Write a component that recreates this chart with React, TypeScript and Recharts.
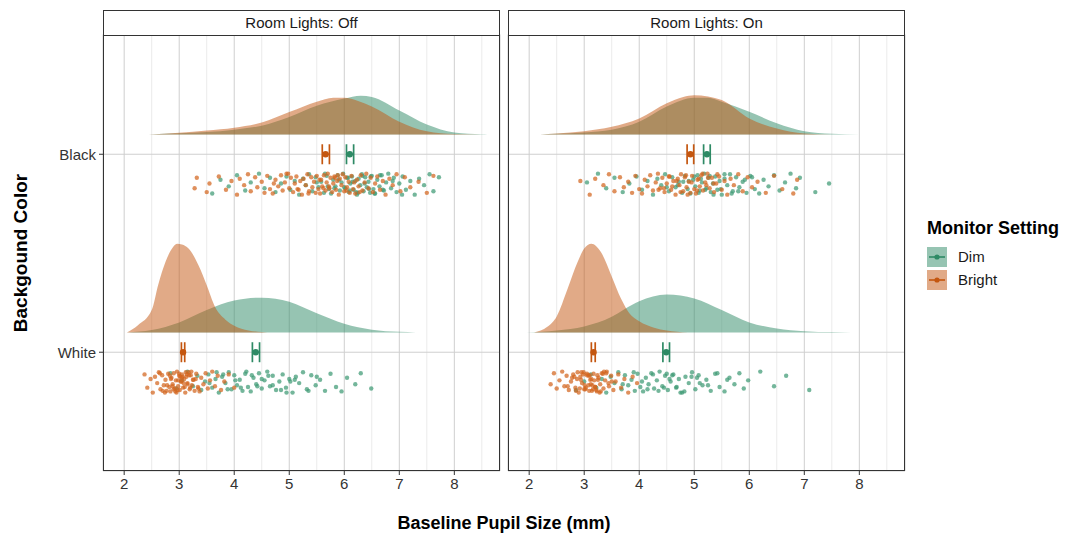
import React from "react";
import {
  ComposedChart,
  Area,
  Scatter,
  XAxis,
  YAxis,
  CartesianGrid,
  ErrorBar,
} from "recharts";

// ---------- data ----------
const X_TICKS = [2, 3, 4, 5, 6, 7, 8];
const X_MINOR = [2.5, 3.5, 4.5, 5.5, 6.5, 7.5, 8.5];
const Y_TICKS = [1, 2];
const Y_LABELS: Record<number, string> = { 1: "White", 2: "Black" };
const SETTINGS = ["Dim", "Bright"];
const PANEL_TITLES = ["Room Lights: Off", "Room Lights: On"];

// density curves: [pupil size, density]
const densOffBlackDim = [[2.45, 0], [3.0, 0.015], [3.5, 0.03], [4.0, 0.06], [4.5, 0.11], [5.0, 0.22], [5.5, 0.36], [6.0, 0.45], [6.3, 0.485], [6.5, 0.47], [7.0, 0.3], [7.5, 0.125], [8.0, 0.025], [8.5, 0.002], [8.6, 0]];
const densOffBlackBright = [[2.45, 0], [3.0, 0.022], [3.5, 0.05], [4.0, 0.085], [4.5, 0.15], [5.0, 0.28], [5.5, 0.41], [5.8, 0.46], [6.0, 0.46], [6.25, 0.42], [6.5, 0.35], [7.0, 0.16], [7.5, 0.04], [8.0, 0.006], [8.5, 0]];
const densOffWhiteDim = [[2.05, 0], [2.5, 0.03], [3.0, 0.125], [3.5, 0.28], [4.0, 0.4], [4.5, 0.435], [5.0, 0.385], [5.5, 0.24], [6.0, 0.11], [6.5, 0.035], [7.0, 0.008], [7.3, 0]];
const densOffWhiteBright = [[2.05, 0], [2.25, 0.09], [2.5, 0.28], [2.62, 0.6], [2.75, 0.88], [2.87, 1.05], [2.96, 1.11], [3.05, 1.1], [3.17, 1.05], [3.35, 0.84], [3.5, 0.59], [3.65, 0.32], [3.84, 0.16], [4.0, 0.085], [4.26, 0.025], [4.5, 0.005], [4.6, 0]];
const densOnBlackDim = [[2.2, 0], [2.5, 0.008], [3.0, 0.025], [3.5, 0.06], [4.0, 0.16], [4.5, 0.35], [5.0, 0.46], [5.25, 0.46], [5.5, 0.41], [6.0, 0.285], [6.5, 0.14], [7.0, 0.04], [7.5, 0.008], [8.0, 0.001], [8.3, 0]];
const densOnBlackBright = [[2.2, 0], [2.5, 0.012], [3.0, 0.04], [3.5, 0.095], [4.0, 0.2], [4.5, 0.39], [4.8, 0.47], [5.0, 0.49], [5.25, 0.475], [5.5, 0.43], [6.0, 0.2], [6.5, 0.075], [7.0, 0.012], [7.5, 0.001], [7.8, 0]];
const densOnWhiteDim = [[1.95, 0], [2.5, 0.025], [3.0, 0.075], [3.5, 0.195], [3.73, 0.29], [4.0, 0.39], [4.5, 0.475], [5.0, 0.425], [5.5, 0.28], [6.0, 0.125], [6.5, 0.05], [7.0, 0.016], [7.5, 0.004], [7.85, 0]];
const densOnWhiteBright = [[2.09, 0], [2.33, 0.07], [2.5, 0.2], [2.7, 0.55], [2.88, 0.88], [3.0, 1.05], [3.13, 1.11], [3.3, 1.01], [3.5, 0.7], [3.67, 0.42], [3.82, 0.24], [4.0, 0.14], [4.27, 0.06], [4.5, 0.025], [4.88, 0]];

// raw observations (pupil size, mm)
const ptsOffBlackBright = [3.28, 3.32, 3.5, 3.55, 3.72, 3.85, 3.95, 4.05, 4.1, 4.18, 4.25, 4.3, 4.38, 4.42, 4.5, 4.55, 4.6, 4.65, 4.7, 4.75, 4.8, 4.85, 4.88, 4.92, 4.95, 5.0, 5.03, 5.07, 5.1, 5.13, 5.17, 5.2, 5.23, 5.26, 5.3, 5.33, 5.36, 5.4, 5.42, 5.45, 5.48, 5.5, 5.53, 5.56, 5.58, 5.6, 5.63, 5.66, 5.68, 5.7, 5.73, 5.75, 5.78, 5.8, 5.82, 5.85, 5.87, 5.9, 5.92, 5.95, 5.97, 6.0, 6.02, 6.05, 6.08, 6.1, 6.13, 6.16, 6.2, 6.23, 6.26, 6.3, 6.33, 6.37, 6.4, 6.44, 6.48, 6.52, 6.56, 6.6, 6.65, 6.7, 6.75, 6.82, 6.88, 6.95, 7.02, 7.1, 7.2, 7.35, 7.5, 7.62, 5.15, 5.35, 5.55, 5.72, 5.88, 6.04, 6.18, 4.98, 5.62, 5.83, 6.28, 4.72];
const ptsOffBlackDim = [3.6, 3.75, 3.9, 4.05, 4.2, 4.3, 4.45, 4.55, 4.65, 4.75, 4.85, 4.95, 5.02, 5.1, 5.18, 5.25, 5.3, 5.36, 5.42, 5.48, 5.53, 5.58, 5.63, 5.68, 5.72, 5.76, 5.8, 5.84, 5.88, 5.92, 5.95, 5.98, 6.02, 6.05, 6.08, 6.11, 6.14, 6.17, 6.2, 6.23, 6.26, 6.29, 6.32, 6.35, 6.38, 6.41, 6.44, 6.47, 6.5, 6.53, 6.56, 6.6, 6.64, 6.68, 6.72, 6.76, 6.8, 6.85, 6.9, 6.95, 7.0, 7.06, 7.12, 7.2, 7.28, 7.36, 7.45, 7.55, 7.62, 7.72, 6.0, 6.15, 6.25, 6.33, 6.45, 6.55, 5.9, 5.7, 6.65, 6.1, 5.5, 5.65, 5.82, 6.07, 6.22, 6.37, 6.48, 6.7, 6.88, 7.05];
const ptsOffWhiteBright = [2.37, 2.42, 2.48, 2.52, 2.56, 2.6, 2.63, 2.66, 2.69, 2.72, 2.75, 2.77, 2.8, 2.82, 2.84, 2.86, 2.88, 2.9, 2.92, 2.94, 2.96, 2.98, 3.0, 3.01, 3.03, 3.05, 3.07, 3.09, 3.11, 3.13, 3.15, 3.17, 3.19, 3.21, 3.23, 3.25, 3.28, 3.31, 3.34, 3.37, 3.4, 3.44, 3.48, 3.52, 3.56, 3.6, 3.65, 3.7, 3.76, 3.82, 3.9, 4.0, 2.85, 2.95, 3.02, 3.08, 3.12, 2.9, 3.18, 2.78, 3.26, 2.7, 3.0, 3.1, 2.93, 3.05, 3.15, 2.65, 3.35, 2.98, 3.22, 2.88, 2.83, 2.97, 3.04, 3.14, 3.2, 3.3, 2.74, 3.06];
const ptsOffWhiteDim = [2.84, 2.95, 3.05, 3.15, 3.25, 3.33, 3.4, 3.47, 3.53, 3.6, 3.66, 3.72, 3.78, 3.84, 3.9, 3.95, 4.0, 4.05, 4.1, 4.15, 4.2, 4.25, 4.3, 4.35, 4.4, 4.45, 4.5, 4.55, 4.6, 4.65, 4.7, 4.76, 4.82, 4.88, 4.94, 5.0, 5.06, 5.12, 5.18, 5.25, 5.32, 5.4, 5.48, 5.56, 5.65, 5.75, 5.85, 5.95, 6.05, 6.2, 6.3, 6.49, 4.02, 4.22, 4.42, 4.62, 4.85, 5.02, 3.8, 4.12, 4.5, 4.95, 5.5, 3.55, 3.68, 3.88, 4.32, 4.7, 5.1, 5.35];
const ptsOnBlackBright = [2.93, 3.1, 3.2, 3.35, 3.45, 3.55, 3.65, 3.72, 3.8, 3.87, 3.93, 4.0, 4.05, 4.1, 4.15, 4.2, 4.25, 4.3, 4.34, 4.38, 4.42, 4.46, 4.5, 4.54, 4.58, 4.62, 4.66, 4.7, 4.73, 4.76, 4.8, 4.83, 4.86, 4.9, 4.93, 4.96, 5.0, 5.03, 5.06, 5.1, 5.13, 5.16, 5.2, 5.24, 5.28, 5.32, 5.36, 5.4, 5.45, 5.5, 5.55, 5.6, 5.66, 5.72, 5.8, 5.88, 5.97, 6.05, 6.15, 6.3, 6.45, 6.6, 6.8, 6.87, 4.6, 4.85, 5.05, 4.95, 5.15, 4.45, 5.25, 4.75, 5.35, 4.55, 4.35, 4.68, 4.88, 5.08, 5.22, 5.42];
const ptsOnBlackDim = [3.05, 3.25, 3.4, 3.55, 3.7, 3.82, 3.95, 4.05, 4.15, 4.25, 4.33, 4.4, 4.47, 4.54, 4.6, 4.66, 4.72, 4.78, 4.83, 4.88, 4.93, 4.98, 5.02, 5.06, 5.1, 5.14, 5.18, 5.22, 5.26, 5.3, 5.34, 5.38, 5.42, 5.46, 5.5, 5.55, 5.6, 5.65, 5.7, 5.76, 5.82, 5.88, 5.95, 6.02, 6.1, 6.18, 6.26, 6.35, 6.45, 6.55, 6.65, 6.75, 6.85, 6.92, 7.2, 7.45, 5.0, 5.2, 4.9, 5.35, 5.12, 4.7, 5.55, 5.8, 6.05, 4.5, 4.8, 5.08, 5.28, 5.48, 5.68, 5.92];
const ptsOnWhiteBright = [2.39, 2.45, 2.5, 2.55, 2.6, 2.64, 2.68, 2.72, 2.76, 2.8, 2.84, 2.87, 2.9, 2.93, 2.96, 2.99, 3.02, 3.05, 3.08, 3.11, 3.14, 3.17, 3.2, 3.23, 3.26, 3.29, 3.32, 3.35, 3.38, 3.41, 3.45, 3.49, 3.53, 3.57, 3.62, 3.67, 3.73, 3.8, 3.88, 3.96, 2.95, 3.0, 3.1, 3.15, 3.25, 2.85, 3.05, 3.2, 3.3, 2.78, 3.12, 3.4, 2.92, 3.18, 3.36, 2.7, 3.08, 3.22, 3.5, 2.98, 3.03, 3.13, 3.28, 2.82, 3.44, 2.88, 3.16, 3.24, 3.01, 2.94, 3.09, 3.34];
const ptsOnWhiteDim = [2.85, 3.0, 3.12, 3.22, 3.32, 3.4, 3.48, 3.55, 3.62, 3.68, 3.74, 3.8, 3.86, 3.92, 3.97, 4.02, 4.07, 4.12, 4.17, 4.22, 4.27, 4.32, 4.37, 4.42, 4.47, 4.52, 4.57, 4.62, 4.67, 4.72, 4.78, 4.84, 4.9, 4.96, 5.02, 5.08, 5.15, 5.22, 5.3, 5.38, 5.46, 5.55, 5.64, 5.73, 5.82, 5.9, 5.98, 6.2, 6.45, 6.67, 7.09, 4.05, 4.25, 4.45, 4.55, 4.75, 4.95, 5.1, 3.9, 4.15, 4.6, 5.25, 5.6, 4.35, 4.5, 4.68, 4.82, 5.05, 3.7, 5.42];

// vertical jitter offsets of the raw points
const JITTER = [-0.048, 0.021, -0.012, 0.044, -0.033, 0.008, 0.052, -0.022, 0.031, -0.041, 0.002, 0.038, -0.029, 0.015, -0.054, 0.026, -0.006, 0.049, -0.037, 0.034, -0.017, 0.011, -0.045, 0.041, -0.026];

// means with 95% CI: [mean, low, high]
const meanOffBlackDim = [6.1, 6.04, 6.17];
const meanOffBlackBright = [5.66, 5.6, 5.73];
const meanOffWhiteDim = [4.39, 4.33, 4.46];
const meanOffWhiteBright = [3.07, 3.04, 3.1];
const meanOnBlackDim = [5.23, 5.17, 5.29];
const meanOnBlackBright = [4.93, 4.87, 4.99];
const meanOnWhiteDim = [4.49, 4.43, 4.55];
const meanOnWhiteBright = [3.17, 3.13, 3.2];

// ---------- styling ----------
const DIM = "#2e8a65";
const BRIGHT = "#c4560f";
const DIM_PT = "#3f9a74";
const BRIGHT_PT = "#d2651f";
const FONT = "'Liberation Sans', Arial, Helvetica, sans-serif";
const DENS_SCALE = 0.404;
const X_DOMAIN = [1.615, 8.83];
const Y_DOMAIN = [0.4, 2.605];

const densData = (pairs: number[][], base: number) =>
  pairs.map(([x, d]) => ({ x, y: base + 0.1 + d * DENS_SCALE }));
const ptData = (xs: number[], base: number, k: number) =>
  xs.map((x, i) => ({ x, y: base - 0.15 + JITTER[(i + k) % JITTER.length] }));
const meanData = (m: number[], base: number) => [
  { x: m[0], y: base, err: [m[0] - m[1], m[2] - m[0]] },
];

const panels = [
  {
    title: PANEL_TITLES[0],
    dens: [
      { d: densOffBlackDim, base: 2, c: DIM },
      { d: densOffWhiteDim, base: 1, c: DIM },
      { d: densOffBlackBright, base: 2, c: BRIGHT },
      { d: densOffWhiteBright, base: 1, c: BRIGHT },
    ],
    pts: [
      { d: ptsOffBlackDim, base: 2, c: DIM_PT, k: 0 },
      { d: ptsOffBlackBright, base: 2, c: BRIGHT_PT, k: 7 },
      { d: ptsOffWhiteDim, base: 1, c: DIM_PT, k: 3 },
      { d: ptsOffWhiteBright, base: 1, c: BRIGHT_PT, k: 11 },
    ],
    means: [
      { m: meanOffBlackDim, base: 2, c: DIM },
      { m: meanOffBlackBright, base: 2, c: BRIGHT },
      { m: meanOffWhiteDim, base: 1, c: DIM },
      { m: meanOffWhiteBright, base: 1, c: BRIGHT },
    ],
  },
  {
    title: PANEL_TITLES[1],
    dens: [
      { d: densOnBlackDim, base: 2, c: DIM },
      { d: densOnWhiteDim, base: 1, c: DIM },
      { d: densOnBlackBright, base: 2, c: BRIGHT },
      { d: densOnWhiteBright, base: 1, c: BRIGHT },
    ],
    pts: [
      { d: ptsOnBlackDim, base: 2, c: DIM_PT, k: 5 },
      { d: ptsOnBlackBright, base: 2, c: BRIGHT_PT, k: 13 },
      { d: ptsOnWhiteDim, base: 1, c: DIM_PT, k: 9 },
      { d: ptsOnWhiteBright, base: 1, c: BRIGHT_PT, k: 2 },
    ],
    means: [
      { m: meanOnBlackDim, base: 2, c: DIM },
      { m: meanOnBlackBright, base: 2, c: BRIGHT },
      { m: meanOnWhiteDim, base: 1, c: DIM },
      { m: meanOnWhiteBright, base: 1, c: BRIGHT },
    ],
  },
];

const PLOT_TOP = 34.5;
const PLOT_BOTTOM = 471;
const PANEL_BOX = [
  { left: 103, right: 500 },
  { left: 508, right: 905 },
];

function Panel({ idx }: { idx: number }) {
  const p = panels[idx];
  const box = PANEL_BOX[idx];
  const showY = idx === 0;
  const chartLeft = idx === 0 ? 0 : 505;
  const chartW = idx === 0 ? 505 : 572;
  const yW = showY ? 40 : 0;
  const ml = box.left - chartLeft - yW;
  const mr = chartLeft + chartW - box.right;
  return (
    <div style={{ position: "absolute", left: chartLeft, top: 0 }}>
      <ComposedChart
        width={chartW}
        height={539}
        margin={{ top: PLOT_TOP, right: mr, bottom: 539 - PLOT_BOTTOM - 30, left: ml }}
      >
        <CartesianGrid verticalValues={X_MINOR} horizontal={false} stroke="#ebebeb" strokeWidth={1} />
        <CartesianGrid stroke="#cfcfcf" strokeWidth={1} />
        <XAxis
          type="number"
          dataKey="x"
          domain={X_DOMAIN}
          ticks={X_TICKS}
          interval={0}
          allowDataOverflow
          axisLine={false}
          tickSize={4}
          tickMargin={3}
          tickLine={{ stroke: "#333" }}
          tick={{ fill: "#333", fontSize: 15, fontFamily: FONT }}
          height={30}
        />
        <YAxis
          type="number"
          dataKey="y"
          domain={Y_DOMAIN}
          ticks={Y_TICKS}
          interval={0}
          allowDataOverflow
          hide={!showY}
          width={yW}
          axisLine={false}
          tickSize={4}
          tickMargin={3}
          tickLine={{ stroke: "#333" }}
          tickFormatter={(v: number) => Y_LABELS[v] ?? ""}
          tick={{ fill: "#333", fontSize: 15, fontFamily: FONT }}
        />
        {p.dens.map((s, i) => (
          <Area
            key={"a" + i}
            data={densData(s.d, s.base)}
            dataKey="y"
            type="monotone"
            baseValue={s.base + 0.1}
            fill={s.c}
            fillOpacity={0.5}
            stroke="none"
            isAnimationActive={false}
            dot={false}
            activeDot={false}
          />
        ))}
        {p.pts.map((s, i) => (
          <Scatter
            key={"p" + i}
            data={ptData(s.d, s.base, s.k)}
            isAnimationActive={false}
            shape={(props: any) => (
              <circle cx={props.cx} cy={props.cy} r={2.2} fill={s.c} fillOpacity={0.72} />
            )}
          />
        ))}
        {p.means.map((s, i) => (
          <Scatter
            key={"m" + i}
            data={meanData(s.m, s.base)}
            isAnimationActive={false}
            shape={(props: any) => (
              <circle cx={props.cx} cy={props.cy} r={3.2} fill={s.c} />
            )}
          >
            <ErrorBar dataKey="err" direction="x" width={10} stroke={s.c} strokeWidth={1.7} />
          </Scatter>
        ))}
      </ComposedChart>
      {/* panel border */}
      <div
        style={{
          position: "absolute",
          left: box.left - chartLeft,
          top: PLOT_TOP,
          width: box.right - box.left,
          height: PLOT_BOTTOM - PLOT_TOP,
          border: "1px solid #333",
          boxSizing: "border-box",
          pointerEvents: "none",
        }}
      />
      {/* strip */}
      <div
        style={{
          position: "absolute",
          left: box.left - chartLeft,
          top: 9.5,
          width: box.right - box.left,
          height: PLOT_TOP - 9.5 + 1,
          border: "1px solid #333",
          boxSizing: "border-box",
          background: "#fff",
          display: "flex",
          alignItems: "center",
          justifyContent: "center",
          fontFamily: FONT,
          fontSize: 15,
          color: "#1a1a1a",
        }}
      >
        {p.title}
      </div>
    </div>
  );
}

function LegendKey({ c }: { c: string }) {
  return (
    <svg width={20} height={20} style={{ display: "block" }}>
      <rect x={0} y={0} width={20} height={20} fill={c} fillOpacity={0.5} />
      <line x1={2} x2={18} y1={10} y2={10} stroke={c} strokeWidth={1.6} />
      <circle cx={10} cy={10} r={2.6} fill={c} />
    </svg>
  );
}

export default function App() {
  const colors = [DIM, BRIGHT];
  return (
    <div
      style={{
        position: "absolute",
        left: 0,
        top: 0,
        width: 1077,
        height: 539,
        background: "#fff",
        fontFamily: FONT,
        overflow: "hidden",
      }}
    >
      <Panel idx={0} />
      <Panel idx={1} />
      {/* y axis title */}
      <div
        style={{
          position: "absolute",
          left: 21,
          top: 253,
          transform: "translate(-50%, -50%) rotate(-90deg)",
          whiteSpace: "nowrap",
          fontWeight: "bold",
          fontSize: 19,
          color: "#000",
        }}
      >
        Backgound Color
      </div>
      {/* x axis title */}
      <div
        style={{
          position: "absolute",
          left: 504,
          top: 523,
          transform: "translate(-50%, -50%)",
          whiteSpace: "nowrap",
          fontWeight: "bold",
          fontSize: 18,
          color: "#000",
        }}
      >
        Baseline Pupil Size (mm)
      </div>
      {/* legend */}
      <div style={{ position: "absolute", left: 927, top: 216 }}>
        <div style={{ fontWeight: "bold", fontSize: 18, color: "#000", lineHeight: "24px" }}>
          Monitor Setting
        </div>
        <div style={{ marginTop: 5 }}>
          {SETTINGS.map((s, i) => (
            <div key={s} style={{ display: "flex", alignItems: "center", height: 23 }}>
              <LegendKey c={colors[i]} />
              <span style={{ marginLeft: 11, fontSize: 15, color: "#1a1a1a" }}>{s}</span>
            </div>
          ))}
        </div>
      </div>
    </div>
  );
}
